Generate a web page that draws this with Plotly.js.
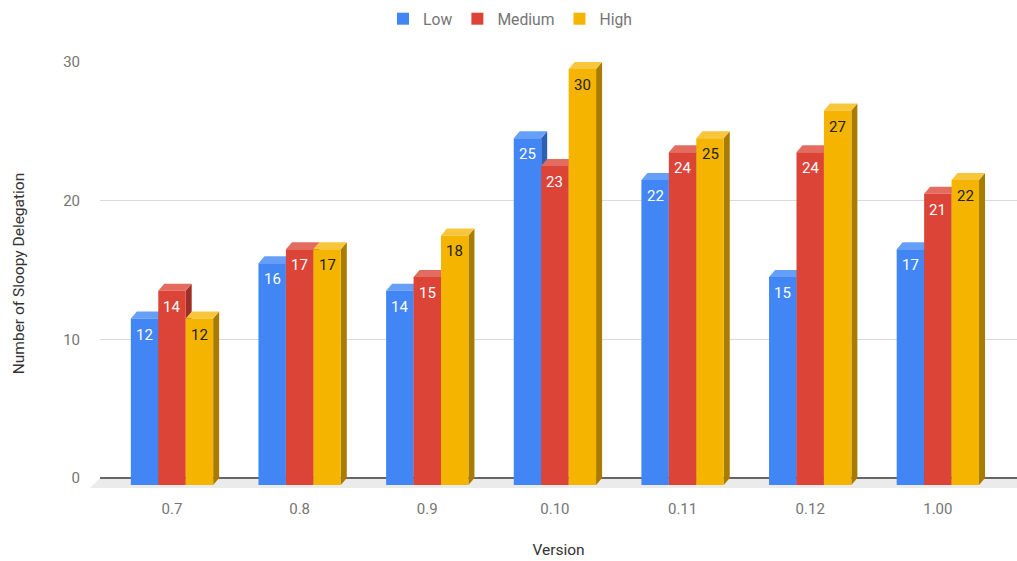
<!DOCTYPE html>
<html><head><meta charset="utf-8">
<script src="https://cdn.plot.ly/plotly-3.0.1.min.js"></script>
<style>html,body{margin:0;padding:0;background:#fff}#chart{width:1017px;height:561px}</style>
</head><body><div id="chart"></div>
<script>
// ---- data ----
const versions = ['0.7', '0.8', '0.9', '0.10', '0.11', '0.12', '1.00'];
const seriesNames = ['Low', 'Medium', 'High'];
const lowValues = [12, 16, 14, 25, 22, 15, 17];
const mediumValues = [14, 17, 15, 23, 24, 24, 21];
const highValues = [12, 17, 18, 30, 25, 27, 22];
const yTickValues = [0, 10, 20, 30];

// ---- styles ----
const frontColors = ['#4285F4', '#DB4437', '#F4B400'];
const topColors = ['#669ff7', '#e36c61', '#f7c63d'];
const sideColors = ['#2d5fb3', '#9e2f26', '#a87c00'];
const labelColors = ['#ffffff', '#ffffff', '#222222'];
const FONT = 'Roboto, Arial, sans-serif';

const W = 1017, H = 561;
const mL = 100, mR = 0, mT = 62, mB = 76;
const plotW = W - mL - mR, plotH = H - mT - mB;
const depthX = 6, depthY = 7;               // pixel depth of the 3D effect
const xRange = [-0.564, 6.62];
const yRange = [0, 30];
const frontSpan = plotH - depthY;           // pixel height of the value range
const pxPerX = plotW / (xRange[1] - xRange[0]);
const pxPerY = frontSpan / (yRange[1] - yRange[0]);
const dxU = depthX / pxPerX, dyU = depthY / pxPerY;
const frontRange = [yRange[0], yRange[0] + plotH / pxPerY];
const barW = 0.215;

const allSeries = [lowValues, mediumValues, highValues];
const xIdx = versions.map((v, i) => i);

const traces = [{
  // anchors the back-wall grid subplot (x, y); draws nothing visible
  type: 'scatter', mode: 'markers', x: [xIdx[0]], y: [yRange[0]],
  xaxis: 'x', yaxis: 'y', marker: {opacity: 0, size: 1},
  showlegend: false, hoverinfo: 'skip'
}].concat(allSeries.map((vals, k) => ({
  type: 'bar',
  name: seriesNames[k],
  x: xIdx,
  y: vals,
  xaxis: 'x', yaxis: 'y2',
  width: barW,
  offset: -1.5 * barW + k * barW,
  marker: {color: frontColors[k], line: {width: 0}},
  hovertemplate: seriesNames[k] + ' %{y}<extra></extra>'
})));

const shapes = [];
// floor
shapes.push({
  type: 'path', xref: 'paper', yref: 'paper', layer: 'below',
  path: `M ${-10 / plotW} ${-3 / plotH} L 1 ${-3 / plotH} L 1 ${depthY / plotH} L 0 ${depthY / plotH} Z`,
  fillcolor: '#ebebeb', line: {width: 0}
});
const annotations = [];
xIdx.forEach(i => {
  allSeries.forEach((vals, k) => {
    const v = vals[i];
    const x0 = i - 1.5 * barW + k * barW, x1 = x0 + barW;
    // side face
    shapes.push({
      type: 'path', xref: 'x', yref: 'y2', layer: 'between',
      path: `M ${x1} ${v} L ${x1 + dxU} ${v + dyU} L ${x1 + dxU} ${dyU} L ${x1} 0 Z`,
      fillcolor: sideColors[k], line: {width: 0}
    });
    // top face
    shapes.push({
      type: 'path', xref: 'x', yref: 'y2', layer: 'between',
      path: `M ${x0} ${v} L ${x1} ${v} L ${x1 + dxU} ${v + dyU} L ${x0 + dxU} ${v + dyU} Z`,
      fillcolor: topColors[k], line: {width: 0}
    });
    annotations.push({
      x: (x0 + x1) / 2, y: v, xref: 'x', yref: 'y2',
      yanchor: 'top', yshift: -5, showarrow: false,
      text: String(v),
      font: {family: FONT, size: 15, color: labelColors[k]}
    });
  });
});

const layout = {
  width: W, height: H,
  margin: {l: mL, r: mR, t: mT, b: mB, pad: 0},
  paper_bgcolor: '#ffffff',
  plot_bgcolor: 'rgba(0,0,0,0)',
  font: {family: FONT, size: 15, color: '#757575'},
  barmode: 'group',
  showlegend: true,
  legend: {
    orientation: 'h', xref: 'container', yref: 'container',
    x: 383 / W, xanchor: 'left', y: 1 - 19 / H, yanchor: 'middle',
    font: {family: FONT, size: 15.7, color: '#757575'},
    traceorder: 'normal'
  },
  xaxis: {
    anchor: 'y2', range: xRange, tickvals: xIdx, ticktext: versions,
    showgrid: false, zeroline: false, showline: false,
    ticks: 'outside', ticklen: 10, tickcolor: 'rgba(0,0,0,0)',
    tickfont: {family: FONT, size: 15, color: '#757575'},
    title: {text: 'Version', standoff: 27, font: {family: FONT, size: 15.5, color: '#333333'}},
    fixedrange: true
  },
  yaxis: {
    anchor: 'x', domain: [depthY / plotH, 1], range: yRange,
    tickvals: yTickValues, showgrid: true, gridcolor: '#dadada', gridwidth: 1,
    zeroline: true, zerolinecolor: '#666666', zerolinewidth: 2,
    showline: false, ticks: 'outside', ticklen: 16, tickcolor: 'rgba(0,0,0,0)',
    tickfont: {family: FONT, size: 15, color: '#757575'},
    fixedrange: true
  },
  yaxis2: {
    anchor: 'x', domain: [0, 1], range: frontRange,
    showgrid: false, zeroline: false, showline: false, showticklabels: false,
    ticks: '',
    title: {text: 'Number of Sloopy Delegation', standoff: 70, font: {family: FONT, size: 15.5, color: '#333333'}},
    fixedrange: true
  },
  shapes: shapes,
  annotations: annotations
};

Plotly.newPlot('chart', traces, layout, {displayModeBar: false, staticPlot: true});
</script></body></html>
